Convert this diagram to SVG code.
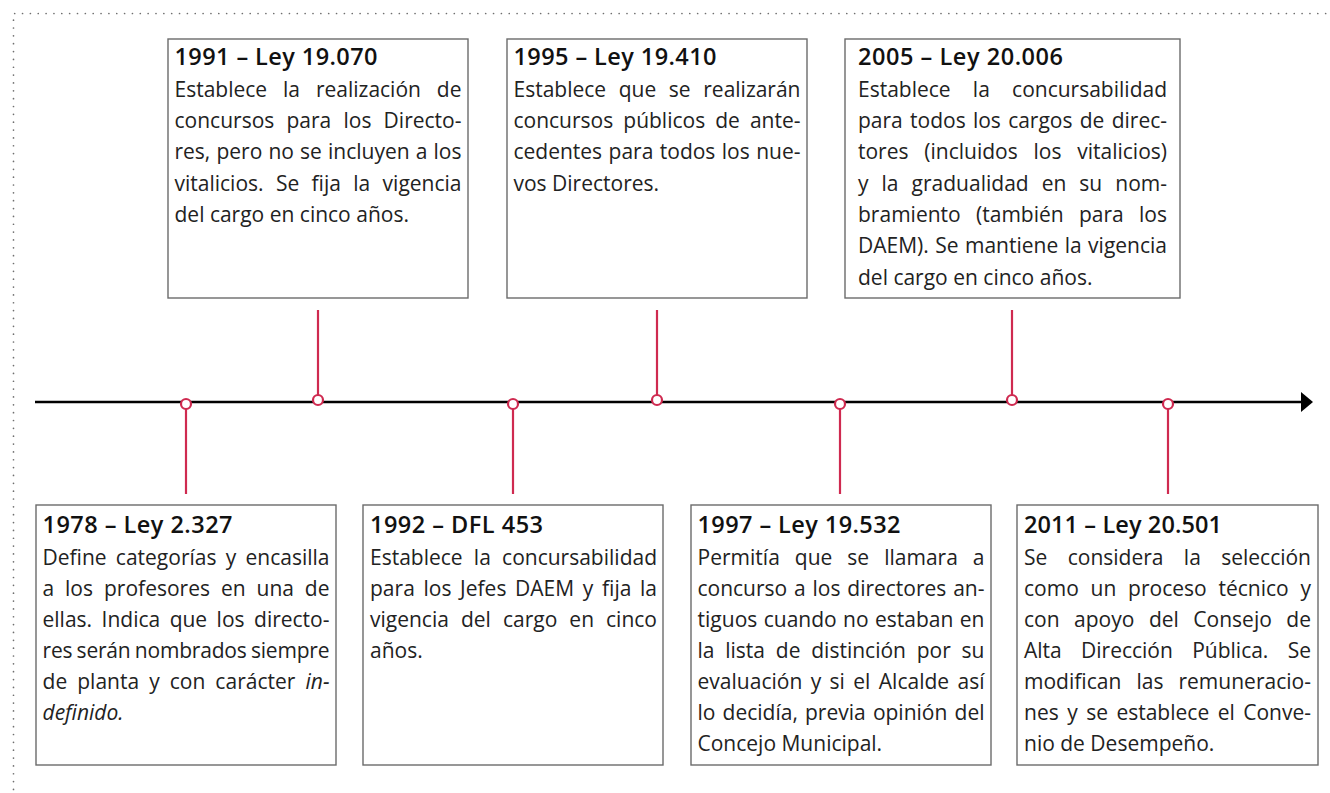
<svg xmlns="http://www.w3.org/2000/svg" width="1330" height="793" viewBox="0 0 1330 793">
<style>
.frame{fill:none;stroke:#6f6f6f;stroke-width:1.7;stroke-linecap:round;stroke-dasharray:0 7.85}
.box{fill:#fff;stroke:#6b6b6b;stroke-width:1.4}
.t{font-family:"Open Sans","Noto Sans",sans-serif;font-weight:600;font-size:23.5px;fill:#111}
.b{font-family:"Open Sans","Noto Sans",sans-serif;font-weight:400;font-size:21px;fill:#222}
.stem{stroke:#cf2a50;stroke-width:2.2}
.dot{fill:#fff;stroke:#cf2a50;stroke-width:2.2}
.axis{stroke:#000;stroke-width:2.6}
</style>
<rect width="1330" height="793" fill="#fff"/>
<path class="frame" d="M13.5,813 V13.5 H1340"/>

<g id="connectors">
  <line class="axis" x1="35" y1="402" x2="1303" y2="402"/>
  <polygon points="1301,392 1313,402 1301,412" fill="#000"/>
  <line class="stem" x1="186" y1="409" x2="186" y2="494"/>
  <circle class="dot" cx="186" cy="404" r="5"/>
  <line class="stem" x1="318" y1="310" x2="318" y2="395"/>
  <circle class="dot" cx="318" cy="400" r="5"/>
  <line class="stem" x1="513" y1="409" x2="513" y2="494"/>
  <circle class="dot" cx="513" cy="404" r="5"/>
  <line class="stem" x1="657" y1="310" x2="657" y2="395"/>
  <circle class="dot" cx="657" cy="400" r="5"/>
  <line class="stem" x1="840" y1="409" x2="840" y2="494"/>
  <circle class="dot" cx="840" cy="404" r="5"/>
  <line class="stem" x1="1012" y1="310" x2="1012" y2="395"/>
  <circle class="dot" cx="1012" cy="400" r="5"/>
  <line class="stem" x1="1168" y1="409" x2="1168" y2="494"/>
  <circle class="dot" cx="1168" cy="404" r="5"/>
</g>

<g id="n1991">
  <rect class="box" x="168" y="39" width="300" height="259"/>
  <text class="t" x="174.5" y="65" textLength="203" lengthAdjust="spacing">1991 – Ley 19.070</text>
  <text class="b" x="174.5" y="96.7" word-spacing="10.5" textLength="287" lengthAdjust="spacing">Establece la realización de</text>
  <text class="b" x="174.5" y="128" word-spacing="6.7" textLength="287" lengthAdjust="spacing">concursos para los Directo-</text>
  <text class="b" x="174.5" y="159.3" word-spacing="0.7" textLength="287" lengthAdjust="spacing">res, pero no se incluyen a los</text>
  <text class="b" x="174.5" y="190.6" word-spacing="6.9" textLength="287" lengthAdjust="spacing">vitalicios. Se fija la vigencia</text>
  <text class="b" x="174.5" y="221.9">del cargo en cinco años.</text>
</g>

<g id="n1995">
  <rect class="box" x="507" y="39" width="300" height="259"/>
  <text class="t" x="513.5" y="65" textLength="203" lengthAdjust="spacing">1995 – Ley 19.410</text>
  <text class="b" x="513.5" y="96.7" word-spacing="7.2" textLength="287" lengthAdjust="spacing">Establece que se realizarán</text>
  <text class="b" x="513.5" y="128" word-spacing="4.6" textLength="287" lengthAdjust="spacing">concursos públicos de ante-</text>
  <text class="b" x="513.5" y="159.3" word-spacing="1" textLength="287" lengthAdjust="spacing">cedentes para todos los nue-</text>
  <text class="b" x="513.5" y="190.6">vos Directores.</text>
</g>

<g id="n2005">
  <rect class="box" x="845" y="39" width="335" height="259"/>
  <text class="t" x="858" y="65" textLength="205" lengthAdjust="spacing">2005 – Ley 20.006</text>
  <text class="b" x="858" y="96.7" word-spacing="16.8" textLength="309" lengthAdjust="spacing">Establece la concursabilidad</text>
  <text class="b" x="858" y="128" word-spacing="1.8" textLength="309" lengthAdjust="spacing">para todos los cargos de direc-</text>
  <text class="b" x="858" y="159.3" word-spacing="10.4" textLength="309" lengthAdjust="spacing">tores (incluidos los vitalicios)</text>
  <text class="b" x="858" y="190.6" word-spacing="7.5" textLength="309" lengthAdjust="spacing">y la gradualidad en su nom-</text>
  <text class="b" x="858" y="221.9" word-spacing="9.8" textLength="309" lengthAdjust="spacing">bramiento (también para los</text>
  <text class="b" x="858" y="253.2" word-spacing="1" textLength="309" lengthAdjust="spacing">DAEM). Se mantiene la vigencia</text>
  <text class="b" x="858" y="284.5">del cargo en cinco años.</text>
</g>

<g id="n1978">
  <rect class="box" x="36" y="505" width="300" height="260"/>
  <text class="t" x="42.5" y="533" textLength="190" lengthAdjust="spacing">1978 – Ley 2.327</text>
  <text class="b" x="42.5" y="564.5" word-spacing="3.8" textLength="287" lengthAdjust="spacing">Define categorías y encasilla</text>
  <text class="b" x="42.5" y="595.6" word-spacing="5.4" textLength="287" lengthAdjust="spacing">a los profesores en una de</text>
  <text class="b" x="42.5" y="626.7" word-spacing="4" textLength="287" lengthAdjust="spacing">ellas. Indica que los directo-</text>
  <text class="b" x="42.5" y="657.8" word-spacing="-1" textLength="287" lengthAdjust="spacing">res serán nombrados siempre</text>
  <text class="b" x="42.5" y="688.9" word-spacing="4.5" textLength="287" lengthAdjust="spacing">de planta y con carácter <tspan font-style="italic">in-</tspan></text>
  <text class="b" x="42.5" y="720" font-style="italic">definido.</text>
</g>

<g id="n1992">
  <rect class="box" x="363" y="505" width="300" height="260"/>
  <text class="t" x="370" y="533" textLength="173" lengthAdjust="spacing">1992 – DFL 453</text>
  <text class="b" x="370" y="564.5" word-spacing="5.8" textLength="287" lengthAdjust="spacing">Establece la concursabilidad</text>
  <text class="b" x="370" y="595.6" word-spacing="3.2" textLength="287" lengthAdjust="spacing">para los Jefes DAEM y fija la</text>
  <text class="b" x="370" y="626.7" word-spacing="6.6" textLength="287" lengthAdjust="spacing">vigencia del cargo en cinco</text>
  <text class="b" x="370" y="657.8">años.</text>
</g>

<g id="n1997">
  <rect class="box" x="691" y="505" width="300" height="260"/>
  <text class="t" x="697.5" y="533" textLength="203" lengthAdjust="spacing">1997 – Ley 19.532</text>
  <text class="b" x="697.5" y="564.5" word-spacing="9.5" textLength="287" lengthAdjust="spacing">Permitía que se llamara a</text>
  <text class="b" x="697.5" y="595.6" word-spacing="1.4" textLength="287" lengthAdjust="spacing">concurso a los directores an-</text>
  <text class="b" x="697.5" y="626.7" word-spacing="0.9" textLength="287" lengthAdjust="spacing">tiguos cuando no estaban en</text>
  <text class="b" x="697.5" y="657.8" word-spacing="5.3" textLength="287" lengthAdjust="spacing">la lista de distinción por su</text>
  <text class="b" x="697.5" y="688.9" word-spacing="2.9" textLength="287" lengthAdjust="spacing">evaluación y si el Alcalde así</text>
  <text class="b" x="697.5" y="720" word-spacing="1.7" textLength="287" lengthAdjust="spacing">lo decidía, previa opinión del</text>
  <text class="b" x="697.5" y="751.1">Concejo Municipal.</text>
</g>

<g id="n2011">
  <rect class="box" x="1017" y="505" width="301" height="260"/>
  <text class="t" x="1024" y="533" textLength="198" lengthAdjust="spacing">2011 – Ley 20.501</text>
  <text class="b" x="1024" y="564.5" word-spacing="15" textLength="287" lengthAdjust="spacing">Se considera la selección</text>
  <text class="b" x="1024" y="595.6" word-spacing="6.3" textLength="287" lengthAdjust="spacing">como un proceso técnico y</text>
  <text class="b" x="1024" y="626.7" word-spacing="9" textLength="287" lengthAdjust="spacing">con apoyo del Consejo de</text>
  <text class="b" x="1024" y="657.8" word-spacing="13.9" textLength="287" lengthAdjust="spacing">Alta Dirección Pública. Se</text>
  <text class="b" x="1024" y="688.9" word-spacing="9.6" textLength="287" lengthAdjust="spacing">modifican las remuneracio-</text>
  <text class="b" x="1024" y="720" word-spacing="3" textLength="287" lengthAdjust="spacing">nes y se establece el Conve-</text>
  <text class="b" x="1024" y="751.1">nio de Desempeño.</text>
</g>
</svg>
